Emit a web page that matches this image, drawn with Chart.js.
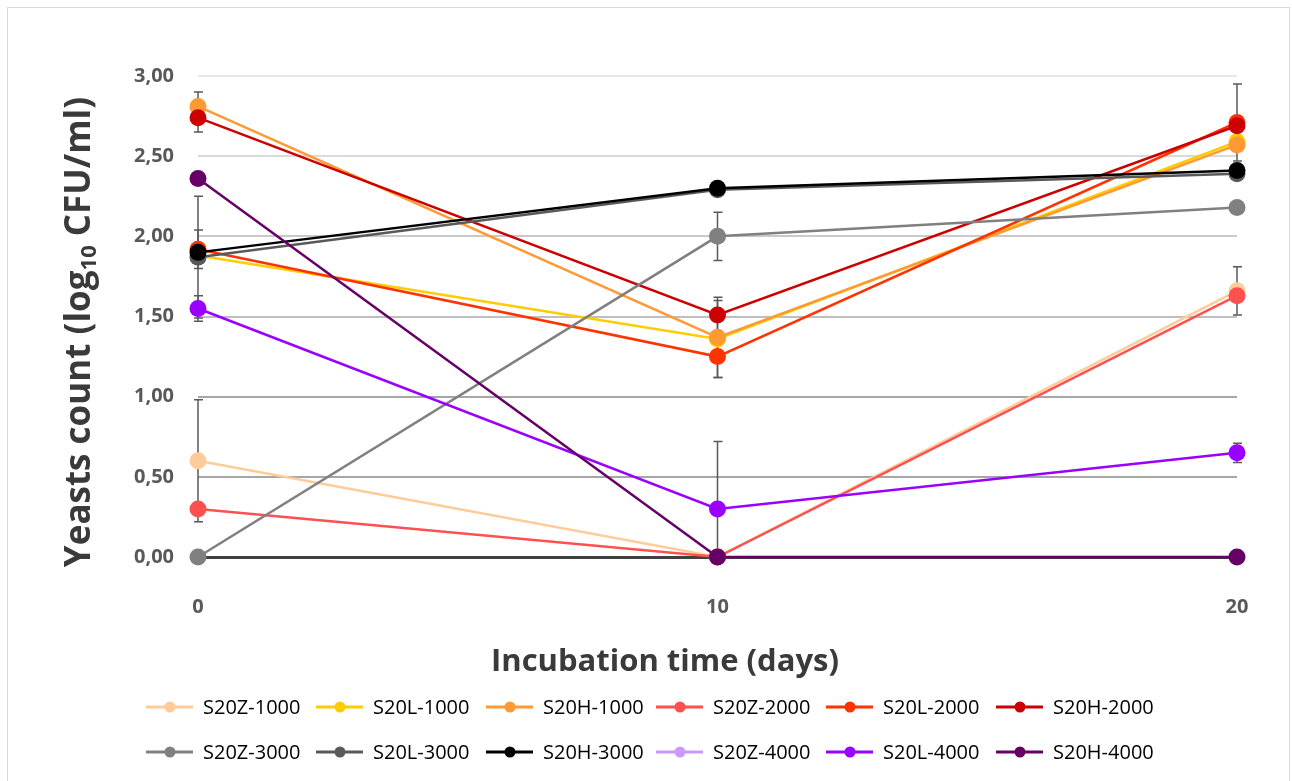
<!DOCTYPE html>
<html>
<head>
<meta charset="utf-8">
<title>Yeasts count</title>
<script src="https://cdn.jsdelivr.net/npm/chart.js@4.4.1/dist/chart.umd.min.js"></script>
<style>
  html, body { margin: 0; padding: 0; background: #fff; overflow: hidden; }
  #frame {
    position: absolute; left: 7px; top: 7px;
    width: 1283px; height: 800px;
    border: 1px solid #d9d9d9; box-sizing: border-box;
  }
  #chart { position: absolute; left: 0; top: 0; }
  #legend {
    position: absolute; left: 138px; top: 676px;
    display: grid; grid-template-columns: repeat(6, 170px);
    grid-auto-rows: 45px;
    font-family: 'Open Sans', sans-serif; font-size: 20px; color: #000;
  }
  .item { display: flex; align-items: center; white-space: nowrap; }
  .item svg { margin-right: 10px; flex: none; }
</style>
</head>
<body>
<div id="frame">
  <canvas id="chart" width="1281" height="680"></canvas>
  <div id="legend"></div>
</div>
<script>
// ── Data ─────────────────────────────────────────────
const days = [0, 10, 20];
const seriesNames = ['S20Z-1000', 'S20L-1000', 'S20H-1000', 'S20Z-2000', 'S20L-2000', 'S20H-2000',
                     'S20Z-3000', 'S20L-3000', 'S20H-3000', 'S20Z-4000', 'S20L-4000', 'S20H-4000'];
const seriesColors = ['#FFCC99', '#FFCC00', '#FF9933', '#FF5050', '#FF3300', '#CC0000',
                      '#808080', '#595959', '#000000', '#CC99FF', '#9900FF', '#660066'];

const s20z1000 = [0.60, 0.00, 1.66];
const s20l1000 = [1.88, 1.36, 2.59];
const s20h1000 = [2.81, 1.37, 2.57];
const s20z2000 = [0.30, 0.00, 1.63];
const s20l2000 = [1.92, 1.25, 2.71];
const s20h2000 = [2.74, 1.51, 2.69];
const s20z3000 = [0.00, 2.00, 2.18];
const s20l3000 = [1.87, 2.29, 2.39];
const s20h3000 = [1.90, 2.30, 2.41];
const s20z4000 = [null, null, null];
const s20l4000 = [1.55, 0.30, 0.65];
const s20h4000 = [2.36, 0.00, 0.00];

// error bars (±), same order as days
const errZ1000 = [0.38, 0, 0.15];
const errL1000 = [0, 0.24, 0];
const errH1000 = [0.09, 0.25, 0];
const errZ2000 = [0, 0, 0];
const errL2000 = [0.12, 0, 0.24];
const errH2000 = [0.09, 0, 0];
const errZ3000 = [0, 0.15, 0];
const errL3000 = [0.38, 0, 0];
const errH3000 = [0, 0, 0];
const errZ4000 = [0, 0, 0];
const errL4000 = [0.08, 0.42, 0.06];
const errH4000 = [0, 0, 0];

const yTicks = [0, 0.5, 1, 1.5, 2, 2.5, 3];
const xTicks = [0, 10, 20];

const seriesValues = [s20z1000, s20l1000, s20h1000, s20z2000, s20l2000, s20h2000,
                      s20z3000, s20l3000, s20h3000, s20z4000, s20l4000, s20h4000];
const seriesErrors = [errZ1000, errL1000, errH1000, errZ2000, errL2000, errH2000,
                      errZ3000, errL3000, errH3000, errZ4000, errL4000, errH4000];

// ── Helpers ──────────────────────────────────────────
const gridColors = ['#404040', '#a6a6a6', '#a6a6a6', '#bfbfbf', '#c9c9c9', '#dadada', '#e6e6e6'];
const fmt = v => v.toFixed(2).replace('.', ',');

const errorBars = {
  id: 'errorBars',
  beforeDatasetsDraw(chart) {
    const { ctx, scales: { x, y } } = chart;
    ctx.save();
    ctx.strokeStyle = '#595959';
    ctx.lineWidth = 1.5;
    seriesValues.forEach((vals, i) => {
      vals.forEach((v, j) => {
        const e = seriesErrors[i][j];
        if (v === null || !e) return;
        const px = x.getPixelForValue(days[j]);
        const top = y.getPixelForValue(v + e);
        const low = Math.max(v - e, 0);
        const bot = y.getPixelForValue(low);
        ctx.beginPath();
        ctx.moveTo(px, top); ctx.lineTo(px, bot);
        ctx.moveTo(px - 4, top); ctx.lineTo(px + 5, top);
        if (low > 0) { ctx.moveTo(px - 4, bot); ctx.lineTo(px + 5, bot); }
        ctx.stroke();
      });
    });
    ctx.restore();
  }
};

const axisTitles = {
  id: 'axisTitles',
  afterDraw(chart) {
    const ctx = chart.ctx;
    ctx.save();
    ctx.fillStyle = '#3a3a3a';
    ctx.textBaseline = 'middle';

    // x title
    ctx.font = 'bold 31px "Open Sans"';
    ctx.textAlign = 'center';
    ctx.fillText('Incubation time (days)', 657, 654);

    // y title with subscript
    const big = 'bold 35px "Open Sans"', small = 'bold 22px "Open Sans"';
    const parts = [['Yeasts count (log', big, 0], ['10', small, 10], [' CFU/ml)', big, 0]];
    let total = 0;
    parts.forEach(p => { ctx.font = p[1]; total += ctx.measureText(p[0]).width; });
    ctx.translate(72, 324);
    ctx.rotate(-Math.PI / 2);
    ctx.textAlign = 'left';
    let cx = -total / 2;
    parts.forEach(p => {
      ctx.font = p[1];
      ctx.fillText(p[0], cx, p[2]);
      cx += ctx.measureText(p[0]).width;
    });
    ctx.restore();
  }
};

// ── Chart ────────────────────────────────────────────
const datasets = seriesNames.map((name, i) => ({
  label: name,
  data: days.map((d, j) => ({ x: d, y: seriesValues[i][j] })),
  borderColor: seriesColors[i],
  backgroundColor: seriesColors[i],
  pointBackgroundColor: seriesColors[i],
  pointBorderWidth: 0,
  pointRadius: 8.5,
  borderWidth: 2.5,
  clip: false,
  order: seriesNames.length - i
}));

new Chart(document.getElementById('chart'), {
  type: 'line',
  data: { datasets },
  plugins: [errorBars, axisTitles],
  options: {
    responsive: false,
    animation: false,
    devicePixelRatio: 1,
    layout: { padding: { left: 0, right: 52, top: 68, bottom: 0 } },
    plugins: { legend: { display: false }, tooltip: { enabled: false } },
    scales: {
      x: {
        type: 'linear', min: 0, max: 20,
        afterBuildTicks: s => { s.ticks = xTicks.map(v => ({ value: v })); },
        afterFit: s => { s.height = 131; },
        grid: { display: false, drawTicks: false },
        border: { display: false },
        ticks: {
          padding: 38, color: '#595959',
          font: { family: 'Open Sans', size: 20, weight: 'bold' }
        }
      },
      y: {
        min: 0, max: 3,
        afterBuildTicks: s => { s.ticks = yTicks.map(v => ({ value: v })); },
        afterFit: s => { s.width = 190; },
        grid: {
          drawTicks: false,
          color: c => gridColors[c.index],
          lineWidth: c => (c.index === 0 ? 3 : 2)
        },
        border: { display: false },
        ticks: {
          padding: 24, color: '#595959',
          font: { family: 'Open Sans', size: 20, weight: 'bold' },
          callback: v => fmt(v)
        }
      }
    }
  }
});

// ── Legend ───────────────────────────────────────────
const legend = document.getElementById('legend');
seriesNames.forEach((name, i) => {
  const c = seriesColors[i];
  const el = document.createElement('div');
  el.className = 'item';
  el.innerHTML =
    `<svg width="47" height="14"><line x1="0" y1="7" x2="47" y2="7" stroke="${c}" stroke-width="3"/>` +
    `<circle cx="24" cy="7" r="5.5" fill="${c}"/></svg><span>${name}</span>`;
  legend.appendChild(el);
});
</script>
</body>
</html>
